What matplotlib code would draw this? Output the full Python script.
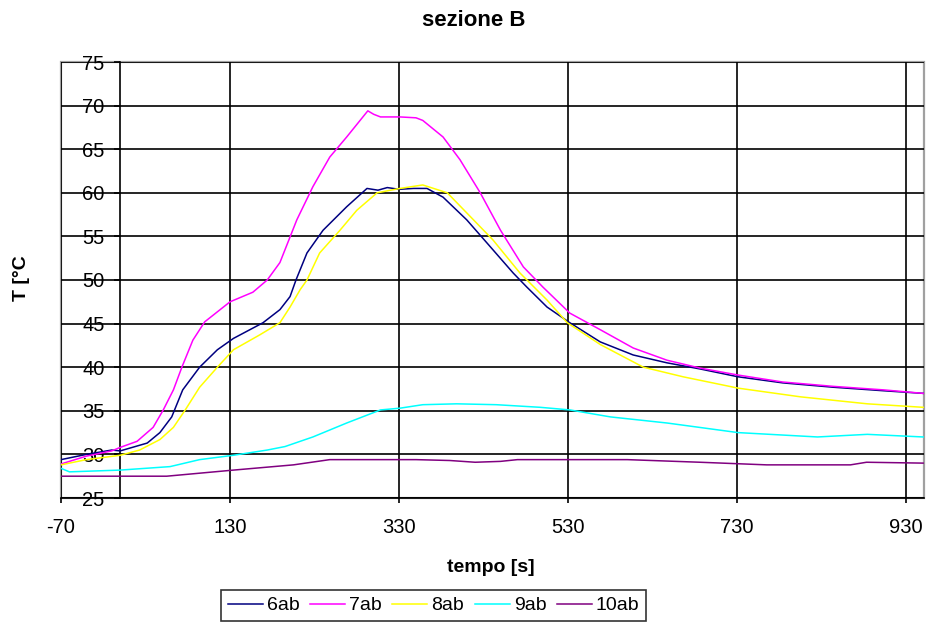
import matplotlib
matplotlib.use('Agg')
import matplotlib.pyplot as plt
from matplotlib.patches import Rectangle

plt.rcParams['font.family'] = ['Liberation Sans', 'DejaVu Sans']
plt.rcParams['axes.unicode_minus'] = False

# data
t_6ab = [-70, -40, -10, 0, 32, 47, 61, 74, 94, 115, 134, 169, 189, 201, 208, 221, 240, 268,
         292, 305, 316, 330, 347, 363, 382, 410, 438, 465, 481, 505, 532, 568, 607, 647, 686,
         731, 784, 844, 903, 950]
T_6ab = [29.4, 30.0, 30.5, 30.4, 31.3, 32.5, 34.3, 37.4, 40.0, 42.0, 43.3, 45.1, 46.6, 48.1, 50.0,
         53.1, 55.7, 58.4, 60.5, 60.3, 60.6, 60.4, 60.5, 60.5, 59.5, 56.9, 53.8, 50.8, 49.2, 46.9,
         45.1, 42.9, 41.4, 40.5, 39.8, 38.9, 38.2, 37.7, 37.3, 37.0]

t_7ab = [-70, -40, -10, 0, 20, 39, 51, 63, 73, 86, 100, 130, 157, 174, 189, 209, 228, 248, 268,
         293, 300, 308, 331, 350, 358, 382, 402, 426, 450, 477, 500, 532, 568, 607, 647, 686,
         731, 784, 844, 903, 950]
T_7ab = [28.9, 29.8, 30.4, 30.8, 31.5, 33.1, 35.1, 37.4, 40.0, 43.1, 45.2, 47.5, 48.6, 50.0, 52.0,
         56.9, 60.7, 64.1, 66.4, 69.4, 69.0, 68.7, 68.7, 68.6, 68.3, 66.4, 63.8, 60.0, 55.7, 51.5,
         49.2, 46.2, 44.3, 42.2, 40.8, 39.9, 39.1, 38.3, 37.8, 37.4, 37.0]

t_8ab = [-70, -40, 0, 23, 47, 63, 77, 94, 115, 134, 165, 189, 201, 213, 221, 236, 260, 280, 304,
         331, 358, 387, 410, 441, 473, 505, 529, 568, 619, 666, 731, 805, 884, 950]
T_8ab = [28.8, 29.4, 29.9, 30.5, 31.7, 33.1, 35.1, 37.7, 40.0, 42.0, 43.7, 45.1, 46.9, 48.9, 50.0,
         53.1, 55.7, 58.0, 60.0, 60.5, 60.9, 60.0, 57.7, 54.6, 50.8, 47.7, 45.1, 42.6, 40.0, 38.9,
         37.6, 36.6, 35.8, 35.4]

t_9ab = [-70, -60, 0, 59, 94, 134, 174, 195, 228, 268, 308, 331, 358, 398, 445, 497, 532, 580,
         647, 731, 825, 884, 950]
T_9ab = [28.4, 28.0, 28.2, 28.6, 29.4, 29.9, 30.5, 30.9, 32.0, 33.6, 35.1, 35.3, 35.7, 35.8, 35.7,
         35.4, 35.1, 34.3, 33.6, 32.5, 32.0, 32.3, 32.0]

t_10ab = [-70, 55, 134, 205, 248, 350, 390, 420, 450, 470, 560, 600, 686, 765, 864, 883, 950]
T_10ab = [27.5, 27.5, 28.2, 28.8, 29.4, 29.4, 29.3, 29.1, 29.2, 29.4, 29.4, 29.4, 29.1, 28.8,
          28.8, 29.1, 29.0]

names = ['6ab', '7ab', '8ab', '9ab', '10ab']
colors = ['#000080', '#FF00FF', '#FFFF00', '#00FFFF', '#800080']
x_ticks = [-70, 130, 330, 530, 730, 930]
y_ticks = [25, 30, 35, 40, 45, 50, 55, 60, 65, 70, 75]

W, H = 928, 626
fig = plt.figure(figsize=(W / 100, H / 100), dpi=100)
ax = fig.add_axes([61 / W, 1 - 498 / H, (924 - 61) / W, (498 - 62) / H])

series = [(t_6ab, T_6ab), (t_7ab, T_7ab), (t_8ab, T_8ab), (t_9ab, T_9ab), (t_10ab, T_10ab)]
handles = []
for (t, T), name, c in zip(series, names, colors):
    h, = ax.plot(t, T, color=c, lw=1.1, label=name, zorder=3)
    handles.append(h)

ax.set_xlim(-70, 951)
ax.set_ylim(25, 75)
ax.set_xticks(x_ticks)
ax.set_yticks(y_ticks)
ax.grid(True, color='black', lw=1.2, zorder=1)
ax.set_axisbelow(True)

# value axis crosses at x = 0 like in the spreadsheet
ax.spines['left'].set_position(('data', 0))
ax.spines['left'].set_color('black')
ax.spines['left'].set_linewidth(1.2)
ax.spines['bottom'].set_color('black')
ax.spines['bottom'].set_linewidth(1.2)
ax.spines['top'].set_visible(False)
ax.spines['right'].set_visible(False)
ax.add_patch(Rectangle((0, 0), 1, 1, transform=ax.transAxes, fill=False,
                       edgecolor='#a0a0a0', lw=1.6, clip_on=False, zorder=0.5))

ax.tick_params(axis='y', direction='out', length=4.3, width=1.2, pad=7, labelsize=14.5)
ax.tick_params(axis='x', direction='out', length=3.6, width=1.2, pad=11, labelsize=14.5)

fig.text(474 / W, 1 - 21 / H, 'sezione B', ha='center', va='center',
         fontsize=16, fontweight='bold')
fig.text(491 / W, 1 - 567 / H, 'tempo [s]', ha='center', va='center',
         fontsize=14, fontweight='bold')
fig.text(22 / W, 1 - 278 / H, 'T [°C', ha='center', va='center', rotation=90,
         fontsize=14, fontweight='bold')

leg = fig.legend(handles=handles, ncol=5, loc='upper left',
                 bbox_to_anchor=(221 / W, 1 - 590 / H), fontsize=14,
                 frameon=True, fancybox=False, edgecolor='black', borderpad=0.35,
                 handlelength=1.8, handletextpad=0.2, columnspacing=0.55,
                 borderaxespad=0)
leg.get_frame().set_linewidth(1.2)

fig.savefig('out.png', dpi=100)
